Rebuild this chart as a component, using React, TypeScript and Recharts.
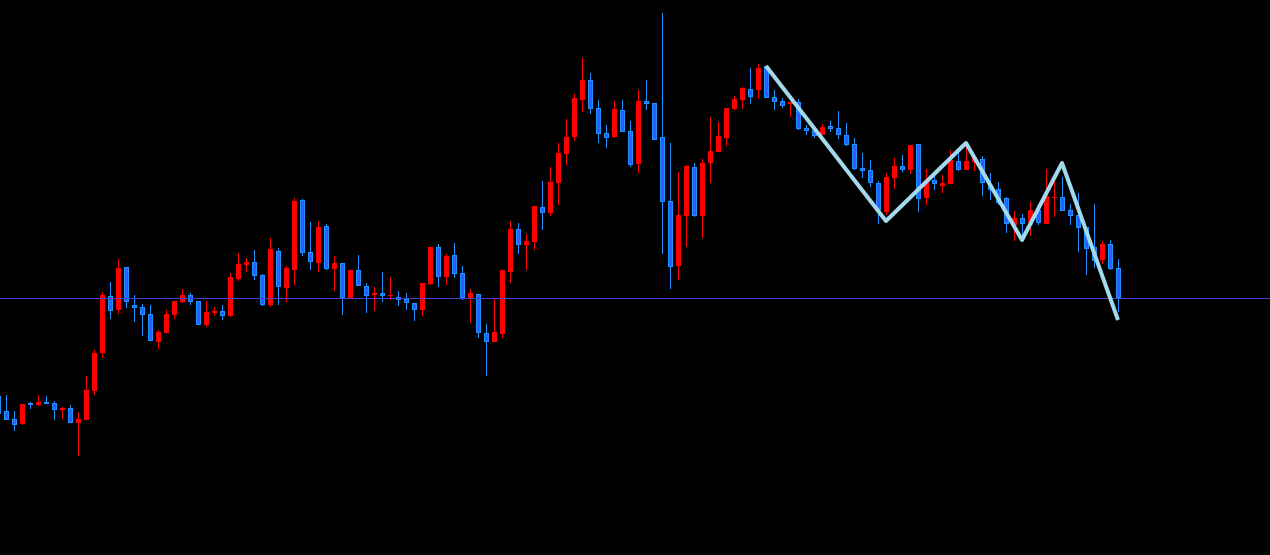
import React from "react";
import { ComposedChart, Bar, Line, XAxis, YAxis, ReferenceLine } from "recharts";

// candle values (price units = pixels above the bottom edge)
const opens = [
  159, 144, 136, 131, 152, 150, 153, 152, 145, 147,
  132, 135, 164, 202, 259, 245, 288, 250, 248, 241,
  213, 222, 240, 253, 260, 254, 230, 242, 244, 239,
  276, 290, 293, 280, 250, 304, 267, 285, 355, 303,
  292, 329, 286, 292, 256, 285, 269, 260, 262, 259,
  258, 256, 252, 245, 271, 308, 278, 300, 282, 257,
  261, 222, 213, 221, 283, 326, 310, 313, 348, 342,
  372, 401, 418, 455, 475, 447, 422, 418, 445, 424,
  391, 454, 452, 418, 354, 289, 339, 388, 339, 392,
  403, 417, 446, 455, 466, 465, 489, 458, 454, 451,
  453, 427, 425, 420, 429, 427, 420, 411, 387, 385,
  372, 343, 377, 389, 385, 411, 357, 375, 369, 371,
  394, 385, 393, 396, 370, 366, 357, 330, 337, 333,
  345, 331, 357, 358, 345, 340, 328, 308, 295, 311,
  287,
];
const highs = [
  162, 160, 144, 151, 153, 160, 159, 154, 148, 150,
  143, 179, 205, 263, 273, 296, 288, 260, 251, 250,
  225, 245, 254, 266, 262, 254, 254, 248, 250, 282,
  302, 297, 305, 281, 317, 307, 289, 357, 356, 333,
  334, 331, 299, 292, 285, 300, 272, 268, 283, 278,
  264, 262, 252, 272, 308, 311, 301, 312, 289, 266,
  261, 231, 257, 285, 334, 332, 321, 349, 374, 388,
  412, 436, 461, 497, 482, 455, 430, 454, 455, 434,
  465, 475, 452, 542, 412, 383, 390, 392, 396, 438,
  433, 447, 459, 468, 487, 491, 489, 465, 457, 453,
  456, 430, 427, 431, 434, 444, 432, 417, 402, 395,
  374, 382, 397, 400, 410, 411, 386, 382, 380, 405,
  405, 408, 398, 399, 382, 373, 358, 344, 341, 353,
  346, 386, 378, 378, 351, 362, 328, 351, 314, 315,
  296,
];
const lows = [
  135, 135, 124, 130, 146, 149, 151, 135, 136, 132,
  99, 135, 160, 197, 236, 241, 247, 233, 219, 214,
  206, 222, 236, 252, 250, 230, 228, 239, 235, 238,
  274, 283, 275, 249, 248, 250, 253, 270, 299, 285,
  283, 285, 264, 240, 256, 269, 242, 244, 253, 255,
  249, 245, 234, 239, 270, 268, 270, 277, 255, 232,
  217, 179, 213, 217, 272, 301, 285, 305, 325, 339,
  350, 390, 414, 443, 441, 412, 407, 417, 423, 388,
  382, 445, 415, 301, 266, 275, 308, 338, 317, 372,
  403, 409, 445, 446, 451, 456, 457, 445, 447, 438,
  425, 420, 417, 420, 423, 416, 409, 385, 377, 368,
  331, 340, 366, 383, 381, 343, 350, 365, 362, 371,
  384, 385, 384, 359, 355, 350, 322, 314, 315, 319,
  330, 331, 338, 344, 330, 303, 280, 287, 291, 285,
  243,
];
const closes = [
  141, 135, 130, 151, 150, 153, 151, 145, 147, 132,
  136, 165, 202, 260, 244, 287, 253, 247, 240, 214,
  223, 241, 254, 260, 253, 230, 243, 244, 239, 278,
  291, 293, 279, 250, 306, 268, 287, 354, 302, 293,
  328, 286, 292, 257, 285, 269, 259, 262, 259, 260,
  255, 252, 245, 272, 308, 278, 299, 281, 257, 262,
  222, 213, 223, 285, 326, 310, 314, 349, 342, 373,
  402, 418, 457, 475, 446, 421, 417, 446, 423, 390,
  454, 451, 415, 353, 288, 340, 389, 339, 392, 404,
  419, 447, 456, 467, 458, 487, 457, 453, 449, 453,
  426, 424, 419, 428, 426, 420, 410, 386, 384, 372,
  345, 378, 389, 385, 410, 356, 375, 371, 372, 395,
  385, 394, 398, 372, 365, 352, 331, 337, 331, 345,
  332, 359, 358, 344, 339, 327, 306, 294, 311, 286,
  257,
];

// zigzag turning points: bar index and price
const zigzagIdx = [96, 111, 121, 128, 133, 140];
const zigzagVal = [489, 334, 412, 315, 392, 235];

const bidLevel = 257;
const SLOTS = 160; // candles plus empty space on the right

const UP = "#ff0000";
const DOWN_EDGE = "#1e90ff";
const DOWN_FILL = "#2f5cff";

const rows = Array.from({ length: SLOTS }, (_, i) => {
  const z = zigzagIdx.indexOf(i);
  return {
    i,
    open: opens[i] ?? null,
    high: highs[i] ?? null,
    low: lows[i] ?? null,
    close: closes[i] ?? null,
    zz: z >= 0 ? zigzagVal[z] : null,
  };
});

function Candle(props: any) {
  const { x, y, width, height, payload } = props;
  if (!payload || payload.high == null) return <g />;
  const { open, close, high, low } = payload;
  const top = Math.min(y, y + height);
  const span = Math.abs(height);
  const k = span / (high - low || 1);
  const yOf = (v: number) => top + (high - v) * k;
  const col = Math.round(x + width / 2);
  const up = close >= open;
  const bodyTop = Math.round(yOf(Math.max(open, close)));
  const bodyBot = Math.round(yOf(Math.min(open, close)));
  const bodyH = Math.max(1, bodyBot - bodyTop);
  const color = up ? UP : DOWN_EDGE;

  return (
    <g>
      <rect x={col} y={Math.round(top)} width={1} height={Math.max(1, Math.round(span))} fill={color} />
      {up ? (
        <rect x={col - 2} y={bodyTop} width={5} height={bodyH} fill={UP} />
      ) : (
        <>
          <rect x={col - 2} y={bodyTop} width={5} height={bodyH} fill={DOWN_EDGE} />
          {bodyH > 2 && (
            <rect x={col - 1} y={bodyTop + 1} width={3} height={bodyH - 2} fill={DOWN_FILL} />
          )}
        </>
      )}
    </g>
  );
}

export default function App() {
  return (
    <div
      style={{
        position: "fixed",
        left: 0,
        top: 0,
        width: 1270,
        height: 555,
        overflow: "hidden",
        background: "#000",
      }}
    >
      <div style={{ position: "absolute", left: -6, top: 0 }}>
        <ComposedChart
          width={SLOTS * 8}
          height={555}
          data={rows}
          margin={{ top: 0, right: 0, bottom: 0, left: 0 }}
          barCategoryGap={0}
        >
          <XAxis dataKey="i" type="category" hide />
          <YAxis type="number" domain={[0, 555]} hide allowDataOverflow />
          <ReferenceLine
            y={bidLevel}
            stroke="#4b3fd2"
            strokeWidth={1}
            shapeRendering="crispEdges"
          />
          <Bar
            dataKey={(d: any) => (d.high == null ? null : [d.low, d.high])}
            shape={Candle}
            isAnimationActive={false}
          />
          <Line
            dataKey="zz"
            type="linear"
            stroke="#a2d9ec"
            strokeWidth={4}
            strokeLinejoin="round"
            dot={false}
            activeDot={false}
            connectNulls
            isAnimationActive={false}
          />
        </ComposedChart>
      </div>
    </div>
  );
}
